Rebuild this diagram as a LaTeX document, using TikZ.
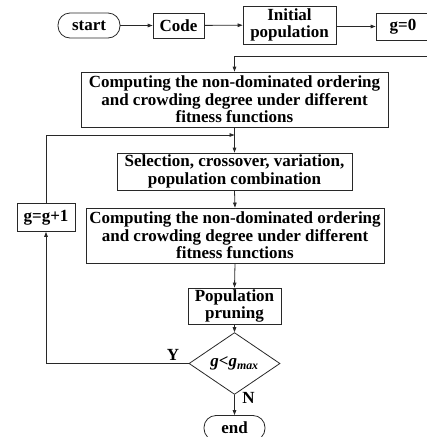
\documentclass[tikz,border=0pt]{standalone}
\usepackage{fontspec}
\setmainfont{Liberation Serif}
\usetikzlibrary{arrows.meta,shapes.geometric}
\definecolor{ink}{RGB}{40,40,40}

\begin{document}
\begin{tikzpicture}[x=1pt,y=-1pt,
  txt/.style={font=\bfseries\fontsize{17}{17.5}\selectfont, align=center, inner sep=0pt},
  blk/.style={txt, draw=ink, line width=0.8pt, rectangle, minimum width=#1},
  terminal/.style={txt, draw=ink, line width=0.8pt, rectangle, rounded corners=12pt,
    minimum width=#1, minimum height=25pt},
  decision/.style={txt, draw=ink, line width=0.8pt, diamond,
    minimum width=91pt, minimum height=46pt},
  flow/.style={ink, line width=0.8pt, -{Triangle[length=5pt,width=3.6pt]}}]

\useasboundingbox (0,0) rectangle (427,437);
\clip (0,0) rectangle (427,437);

% top row
\node[terminal=62pt] (start) at (89,25.5) {start};
\node[blk=51pt, minimum height=25pt] (code) at (178.5,25.5) {Code};
\node[blk=93pt, minimum height=38pt] (init) at (289.5,25) {Initial\\population};
\node[blk=54pt, minimum height=27pt] (g0) at (403,26.5) {g=0};
\coordinate (gout) at (432,56);

% main column
\node[blk=307pt, minimum height=55pt] (fit1) at (234.5,99.5)
  {Computing the non-dominated ordering\\and crowding degree under different\\fitness functions};
\node[blk=235pt, minimum height=37pt] (sel) at (234.5,171.5)
  {Selection, crossover, variation,\\population combination};
\node[blk=298pt, minimum height=55pt] (fit2) at (235,235.5)
  {Computing the non-dominated ordering\\and crowding degree under different\\fitness functions};
\node[blk=93pt, minimum height=36pt] (prune) at (234.5,306) {Population\\pruning};
\node[decision] (dec) at (234.5,363.5) {\itshape g<g\textsubscript{max}};
\node[terminal=61pt] (stop) at (234.5,428) {end};

% generation counter on the loop
\node[blk=58pt, minimum height=28pt] (inc) at (46,217.5) {g=g+1};
\coordinate (join) at (234.5,135);

% connectors
\draw[flow] (start) -- (code);
\draw[flow] (code) -- (init);
\draw[flow] (init.east |- g0.west) -- (g0.west);
\draw[flow] (gout) -| (fit1.north);
\draw[flow] (fit1.south) -- (sel.north);
\draw[flow] (sel.south) -- (fit2.north);
\draw[flow] (fit2.south) -- (prune.north);
\draw[flow] (prune.south) -- (dec.north);
\draw[flow] (dec.south) -- (stop.north);
\draw[flow] (dec.west) -| (inc.south);
\draw[flow] (inc.north) |- (join);

% branch labels
\node[txt] (ylab) at (173,355) {Y};
\node[txt] (nlab) at (248.5,398) {N};
\end{tikzpicture}
\end{document}
